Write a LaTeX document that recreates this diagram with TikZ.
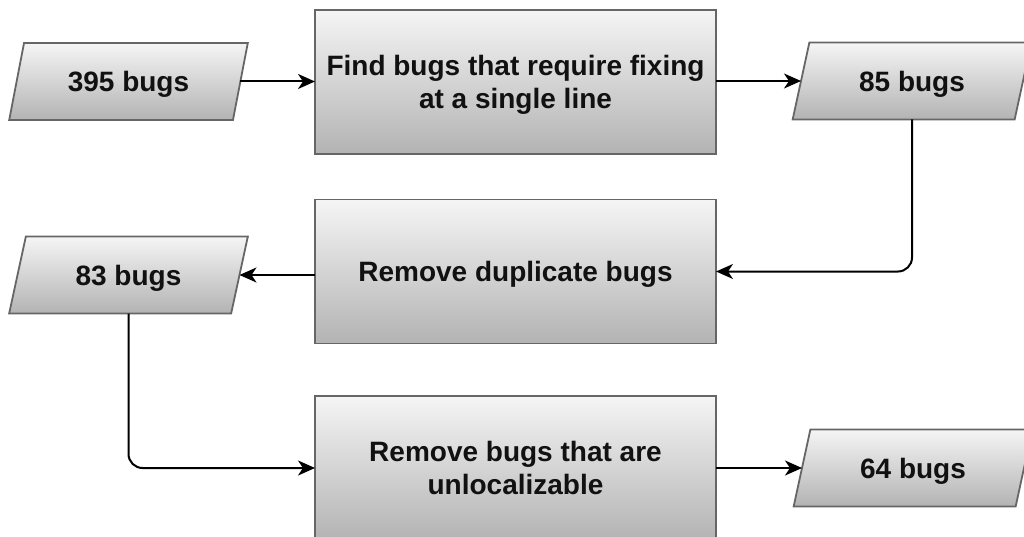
\documentclass[tikz,border=0pt]{standalone}
\usepackage{fontspec}
\setmainfont{Liberation Sans}
\usetikzlibrary{shapes.geometric,arrows.meta}
\definecolor{shapeedge}{HTML}{666666}
\definecolor{fillhi}{HTML}{F5F5F5}
\definecolor{filllo}{HTML}{B3B3B3}
\definecolor{labelink}{HTML}{111111}
\tikzset{
  labelfont/.style={font=\fontsize{28}{33.6}\selectfont\bfseries, text=labelink, text depth=0pt},
  stepbox/.style={draw=shapeedge, line width=1.8pt, top color=fillhi, bottom color=filllo,
    minimum width=401pt, minimum height=144pt, inner sep=0pt, outer sep=0pt,
    align=center, labelfont},
  datashape/.style={trapezium, trapezium left angle=67, trapezium right angle=113,
    trapezium stretches=true, draw=shapeedge, line width=1.8pt,
    top color=fillhi, bottom color=filllo,
    minimum width=239pt, minimum height=77pt, inner sep=0pt, outer sep=0pt, labelfont},
  flow/.style={line width=2pt, draw=black, rounded corners=14pt,
    -{Stealth[length=17pt,width=15pt,inset=5pt]}}
}
\begin{document}
\begin{tikzpicture}[x=1pt,y=-1pt]
  \useasboundingbox (0,0) rectangle (1024,537);
  \clip (0,0) rectangle (1024,537);

  % process steps
  \node[stepbox] (find)   at (515.5,82)    {Find bugs that require fixing\\at a single line};
  \node[stepbox] (dedup)  at (515.5,271.5) {Remove duplicate bugs};
  \node[stepbox] (unloc)  at (515.5,468)   {Remove bugs that are\\unlocalizable};

  % bug counts
  \node[datashape] (n395) at (128.5,81.5) {395 bugs};
  \node[datashape] (n85)  at (912,81)     {85 bugs};
  \node[datashape] (n83)  at (128.5,275)  {83 bugs};
  \node[datashape] (n64)  at (913,468)    {64 bugs};

  % flow
  \draw[flow] (n395.right side) -- (n395.right side -| find.west);
  \draw[flow] (find.east |- n85.left side) -- (n85.left side);
  \draw[flow] (n85.center |- n85.bottom side) |- (dedup.east);
  \draw[flow] (n83.right side -| dedup.west) -- (n83.right side);
  \draw[flow] (n83.center |- n83.bottom side) |- (unloc.west);
  \draw[flow] (unloc.east |- n64.left side) -- (n64.left side);
\end{tikzpicture}
\end{document}
